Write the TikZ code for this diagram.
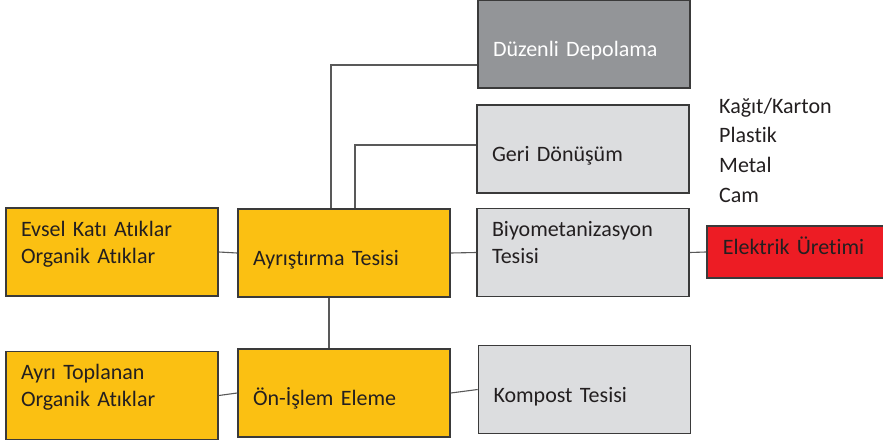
\documentclass[tikz,border=0pt]{standalone}
\usepackage{fontspec}
\setmainfont{Carlito}[WordSpace=0.75, Ligatures=NoCommon]
\usepackage{tikz}
\usetikzlibrary{positioning}
\definecolor{sari}{HTML}{FBC012}
\definecolor{acikgri}{HTML}{DCDDDF}
\definecolor{koyugri}{HTML}{939598}
\definecolor{kirmizi}{HTML}{ED1C24}
\definecolor{cerceve}{HTML}{3A3A3A}
\definecolor{yazi}{HTML}{231F20}
\tikzstyle{kutu} = [rectangle, draw=cerceve, line width=1.6pt, text=yazi, align=left, inner xsep=15pt, text width=182pt, minimum width=212pt, minimum height=88pt, font=\fontsize{22}{27}\selectfont]
\tikzstyle{tek} = [text height=25pt, text depth=0pt]
\tikzstyle{cift} = [text height=0pt, text depth=32pt]

\begin{document}
\begin{tikzpicture}[x=1pt,y=-1pt]
\tikzstyle{bag} = [draw=black!65, line width=1.1pt]
\useasboundingbox (0,0) rectangle (883,444);
% sol sutun
\node[kutu, cift, fill=sari] (ev) at (112,252) {Evsel Katı Atıklar\\Organik Atıklar};
\node[kutu, cift, fill=sari] (at) at (112,395.5) {Ayrı Toplanan\\Organik Atıklar};
% orta sutun
\node[kutu, tek, fill=sari] (ay) at (344,253) {Ayrıştırma Tesisi};
\node[kutu, tek, fill=sari] (on) at (344,393) {Ön-İşlem Eleme};
% sag sutun
\node[kutu, tek, fill=koyugri, text=white] (dz) at (584,44) {Düzenli Depolama};
\node[kutu, tek, fill=acikgri] (gd) at (583,149) {Geri Dönüşüm};
\node[kutu, cift, fill=acikgri] (bm) at (583,252.5) {Biyometanizasyon\\Tesisi};
\node[kutu, tek, fill=acikgri] (kp) at (584.5,389.5) {Kompost Tesisi};
\node[kutu, fill=kirmizi, anchor=west, minimum height=52pt, text height=5pt, text depth=0pt, inner xsep=16pt, text width=170pt, minimum width=202pt] (el) at (706,252) {Elektrik Üretimi};
\node[anchor=base west, inner sep=0pt, text width=150pt, align=left, text=yazi, font=\fontsize{22}{29.7}\selectfont] (li) at (719,113) {Kağıt/Karton\\Plastik\\Metal\\Cam};

\draw[bag] (ev.east) -- (ay.west);
\draw[bag] (at.east) -- (on.west);
\draw[bag] (ay.east) -- (bm.west);
\draw[bag] (on.east) -- (kp.west);
\draw[bag] (bm.east) -- (el.west);
\draw[bag] ([xshift=-15pt]ay.south) -- ([xshift=-15pt]on.north);
\draw[bag] ([xshift=-13pt]ay.north) |- ([yshift=-21pt]dz.west);
\draw[bag] ([xshift=11pt]ay.north) |- ([yshift=4pt]gd.west);
\end{tikzpicture}
\end{document}
